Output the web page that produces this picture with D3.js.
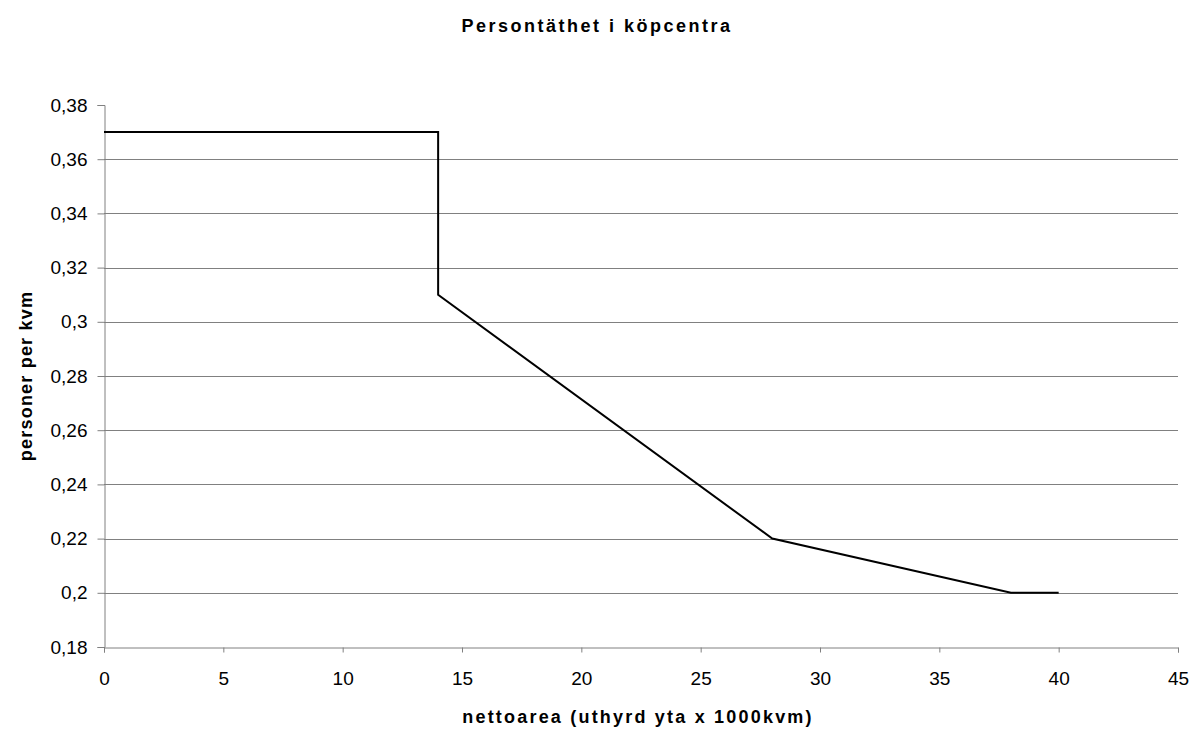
<!DOCTYPE html>
<html>
<head>
<meta charset="utf-8">
<script src="https://cdn.jsdelivr.net/npm/d3@7"></script>
<style>
  html, body { margin: 0; padding: 0; background: #ffffff; }
  svg { display: block; font-family: Arial, "Liberation Sans", sans-serif; }
</style>
</head>
<body>
<svg id="chart" width="1192" height="731"></svg>
<script>
// Net rentable area (thousand m²) and persons per m²
const areaValues = [0, 14, 14, 28, 38, 40];
const densityValues = [0.37, 0.37, 0.31, 0.22, 0.20, 0.20];

const xTicks = [0, 5, 10, 15, 20, 25, 30, 35, 40, 45];
const yTicks = [0.18, 0.20, 0.22, 0.24, 0.26, 0.28, 0.30, 0.32, 0.34, 0.36, 0.38];

const titleText = "Persontäthet i köpcentra";
const xLabelText = "nettoarea (uthyrd yta x 1000kvm)";
const yLabelText = "personer per kvm";

const svg = d3.select("#chart");
const W = 1192, H = 731;
const margin = { left: 104, right: 14, top: 105, bottom: 84 };

const x = d3.scaleLinear().domain([0, 45]).range([margin.left, W - margin.right]);
const y = d3.scaleLinear().domain([0.18, 0.38]).range([H - margin.bottom, margin.top]);

const fmt = v => String(+v.toFixed(2)).replace(".", ",");

// horizontal gridlines
svg.append("g")
  .selectAll("line")
  .data(yTicks.filter(t => t > 0.18 && t < 0.38))
  .join("line")
  .attr("x1", x(0)).attr("x2", x(45))
  .attr("y1", d => Math.round(y(d)) + 0.5)
  .attr("y2", d => Math.round(y(d)) + 0.5)
  .attr("stroke", "#808080")
  .attr("stroke-width", 1);

// y axis
const yAxis = svg.append("g")
  .attr("transform", `translate(${Math.round(x(0)) + 0.5},0)`)
  .call(d3.axisLeft(y).tickValues(yTicks).tickFormat(fmt).tickSize(7).tickPadding(10));

// x axis
const xAxis = svg.append("g")
  .attr("transform", `translate(0,${Math.round(y(0.18)) + 0.5})`)
  .call(d3.axisBottom(x).tickValues(xTicks).tickFormat(d => d).tickSize(5).tickPadding(19));

[yAxis, xAxis].forEach(g => {
  g.attr("font-size", 19).attr("font-family", "Arial, 'Liberation Sans', sans-serif");
  g.select(".domain").attr("stroke", "#808080").attr("stroke-width", 1);
  g.selectAll(".tick line").attr("stroke", "#808080");
  g.selectAll(".tick text").attr("fill", "#000");
});

// data line
const line = d3.line()
  .x((d, i) => x(areaValues[i]))
  .y((d, i) => y(densityValues[i]));

svg.append("path")
  .datum(areaValues)
  .attr("d", line)
  .attr("fill", "none")
  .attr("stroke", "#000")
  .attr("stroke-width", 2)
  .attr("stroke-linejoin", "miter");

// title
svg.append("text")
  .attr("x", 597).attr("y", 32)
  .attr("text-anchor", "middle")
  .attr("font-size", 18)
  .attr("font-weight", "bold")
  .attr("letter-spacing", 2.5)
  .text(titleText);

// x axis label
svg.append("text")
  .attr("x", 638).attr("y", 723)
  .attr("text-anchor", "middle")
  .attr("font-size", 18)
  .attr("font-weight", "bold")
  .attr("letter-spacing", 2.2)
  .text(xLabelText);

// y axis label
svg.append("text")
  .attr("transform", `translate(32,${(y(0.18) + y(0.38)) / 2}) rotate(-90)`)
  .attr("text-anchor", "middle")
  .attr("font-size", 18)
  .attr("font-weight", "bold")
  .attr("letter-spacing", 1.2)
  .text(yLabelText);
</script>
</body>
</html>
